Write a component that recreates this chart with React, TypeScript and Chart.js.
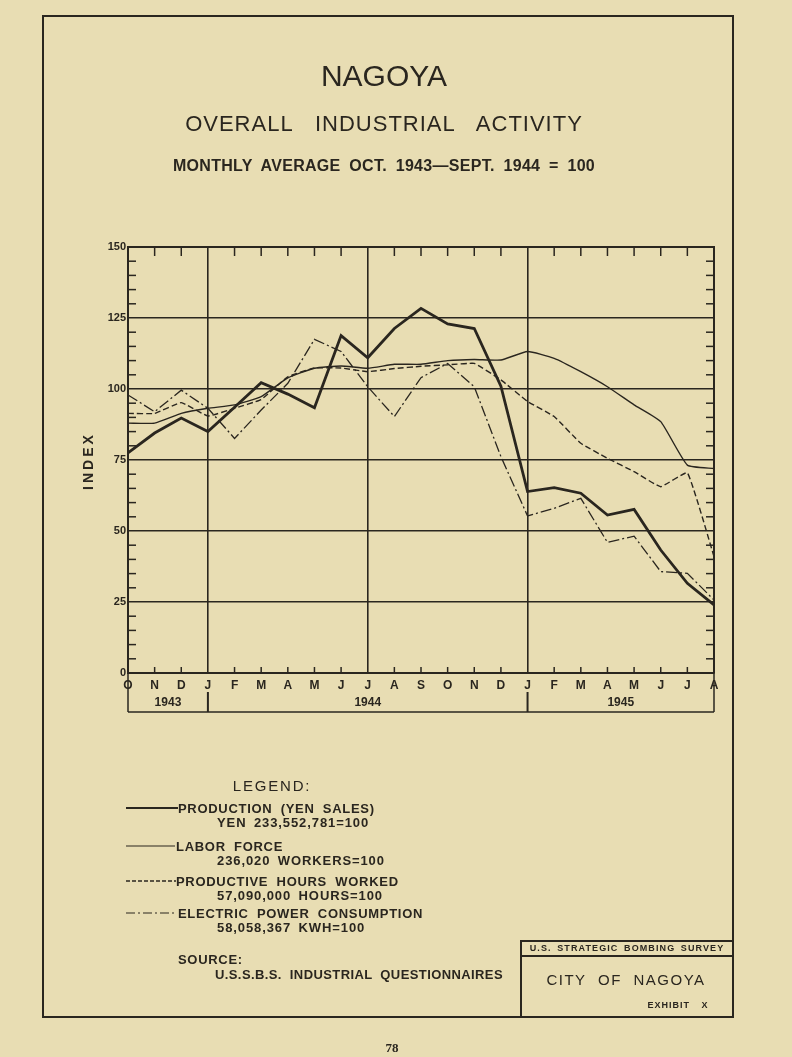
import React, { useEffect, useRef } from 'react';
import { Chart, registerables } from 'chart.js';

Chart.register(...registerables);

const INK = '#2a261f';
const PAPER = '#e8ddb3';
const FONT = '"Liberation Sans", Arial, sans-serif';

const MONTHS = ['O', 'N', 'D', 'J', 'F', 'M', 'A', 'M', 'J', 'J', 'A', 'S', 'O', 'N', 'D', 'J', 'F', 'M', 'A', 'M', 'J', 'J', 'A'];
const YEARS = ['1943', '1944', '1945'];
const YEAR_START = [0, 3, 15];
const YEAR_END = [3, 15, 22];
const MAJOR_MONTHS = [3, 9, 15];

const PRODUCTION = [77.5, 84.5, 89.8, 85, 93.6, 102.2, 98.2, 93.4, 118.8, 111, 121.3, 128.4, 122.9, 121.3, 101, 63.9, 65.3, 63.3, 55.6, 57.6, 43.3, 31.6, 24];
const LABOR = [88, 88, 91.4, 93.2, 94.4, 97.3, 103.9, 107.3, 108.1, 107.3, 108.7, 108.7, 110, 110.4, 110.2, 113.2, 110.8, 106.1, 100.8, 94.4, 88.5, 73.2, 72];
const HOURS = [91.4, 91.4, 95.2, 90.5, 93.2, 96.3, 104.3, 107.4, 107.4, 106.1, 107.2, 108, 108.5, 109, 103.2, 95.6, 90.3, 80.9, 75.6, 70.9, 65.6, 70.5, 41];
const POWER = [97.9, 92, 99.6, 93.2, 82.6, 92.6, 102, 117.5, 113.2, 100.8, 90.3, 104, 109, 100.8, 76.2, 55.3, 58, 61.5, 46, 48.2, 35.7, 35.1, 25.7];

const Y_MIN = 0;
const Y_MAX = 150;
const Y_MINOR_STEP = 5;
const Y_MAJOR_STEP = 25;

const decor = {
  id: 'decor',
  afterDraw(chart: any) {
    const { ctx, chartArea: a, scales } = chart;
    const x = scales.x;
    const y = scales.y;
    const line = (x1: number, y1: number, x2: number, y2: number) => {
      ctx.beginPath();
      ctx.moveTo(x1, y1);
      ctx.lineTo(x2, y2);
      ctx.stroke();
    };
    ctx.save();
    ctx.strokeStyle = INK;
    ctx.fillStyle = INK;
    ctx.setLineDash([]);
    ctx.lineWidth = 2;
    ctx.beginPath();
    ctx.moveTo(a.left, a.top);
    ctx.lineTo(a.right, a.top);
    ctx.lineTo(a.right, a.bottom);
    ctx.stroke();
    ctx.lineWidth = 1.5;
    for (let v = Y_MIN + Y_MINOR_STEP; v < Y_MAX; v += Y_MINOR_STEP) {
      if (v % Y_MAJOR_STEP === 0) continue;
      const py = y.getPixelForValue(v);
      line(a.left, py, a.left + 8, py);
      line(a.right - 8, py, a.right, py);
    }
    for (let i = 1; i < MONTHS.length - 1; i++) {
      if (MAJOR_MONTHS.includes(i)) continue;
      const px = x.getPixelForValue(i);
      line(px, a.top, px, a.top + 9);
      line(px, a.bottom - 6, px, a.bottom);
    }
    const yb = a.bottom + 39;
    ctx.lineWidth = 1.5;
    line(a.left, a.bottom, a.left, yb);
    line(a.right, a.bottom, a.right, yb);
    line(a.left, yb, a.right, yb);
    ctx.lineWidth = 2;
    for (let k = 1; k < YEAR_START.length; k++) {
      const px = x.getPixelForValue(YEAR_START[k]);
      line(px, a.bottom + 19, px, yb);
    }
    ctx.font = `bold 12px ${FONT}`;
    ctx.textAlign = 'center';
    ctx.textBaseline = 'middle';
    for (let k = 0; k < YEARS.length; k++) {
      const cx = (x.getPixelForValue(YEAR_START[k]) + x.getPixelForValue(YEAR_END[k])) / 2;
      ctx.fillText(YEARS[k], cx, a.bottom + 30);
    }
    ctx.restore();
  },
};

type TP = {
  x: number;
  y: number;
  s: number;
  w?: number;
  a?: 'left' | 'center';
  ls?: number;
  ws?: number;
  f?: string;
  rot?: boolean;
  children: React.ReactNode;
};

const T = ({ x, y, s, w = 700, a = 'left', ls = 0, ws = 0, f = FONT, rot = false, children }: TP) => (
  <div
    style={{
      position: 'absolute',
      left: x,
      top: y,
      fontSize: s,
      fontWeight: w,
      fontFamily: f,
      lineHeight: 1,
      whiteSpace: 'nowrap',
      letterSpacing: ls,
      wordSpacing: ws,
      color: INK,
      transform: rot
        ? 'translate(-50%,-50%) rotate(-90deg)'
        : a === 'center'
        ? 'translate(-50%,-50%)'
        : 'translateY(-50%)',
    }}
  >
    {children}
  </div>
);

const Swatch = ({ x1, x2, y, w, dash }: { x1: number; x2: number; y: number; w: number; dash?: string }) => (
  <svg style={{ position: 'absolute', left: 0, top: 0, overflow: 'visible' }} width={1} height={1}>
    <line x1={x1} y1={y} x2={x2} y2={y} stroke={INK} strokeWidth={w} strokeDasharray={dash} />
  </svg>
);

export default function App() {
  const ref = useRef<HTMLCanvasElement>(null);
  useEffect(() => {
    if (!ref.current) return;
    const chart = new Chart(ref.current, {
      type: 'line',
      data: {
        labels: MONTHS,
        datasets: [
          { label: 'PRODUCTION (YEN SALES)', data: PRODUCTION, borderColor: INK, borderWidth: 2.8, pointRadius: 0, tension: 0 },
          { label: 'LABOR FORCE', data: LABOR, borderColor: INK, borderWidth: 1.4, pointRadius: 0, tension: 0.15 },
          { label: 'PRODUCTIVE HOURS WORKED', data: HOURS, borderColor: INK, borderWidth: 1.4, borderDash: [6, 3], pointRadius: 0, tension: 0.1 },
          { label: 'ELECTRIC POWER CONSUMPTION', data: POWER, borderColor: INK, borderWidth: 1.3, borderDash: [11, 3, 2, 3], pointRadius: 0, tension: 0 },
        ],
      },
      options: {
        responsive: false,
        animation: false,
        events: [],
        layout: { padding: { left: 0, top: 247, right: 78, bottom: 344 } },
        plugins: { legend: { display: false }, tooltip: { enabled: false } },
        scales: {
          x: {
            type: 'category',
            offset: false,
            afterFit: (s: any) => {
              s.height = 40;
            },
            grid: {
              offset: false,
              drawTicks: false,
              lineWidth: 1.6,
              color: (c: any) => (MAJOR_MONTHS.includes(c.index) ? INK : 'rgba(0,0,0,0)'),
            },
            border: { display: true, color: INK, width: 2 },
            ticks: {
              autoSkip: false,
              maxRotation: 0,
              padding: 5,
              color: INK,
              font: { family: FONT, size: 12, weight: 'bold' },
            },
          },
          y: {
            min: Y_MIN,
            max: Y_MAX,
            afterFit: (s: any) => {
              s.width = 128;
            },
            grid: {
              drawTicks: false,
              lineWidth: 1.6,
              color: (c: any) =>
                c.tick && c.tick.value % Y_MAJOR_STEP === 0 && c.tick.value > Y_MIN && c.tick.value < Y_MAX ? INK : 'rgba(0,0,0,0)',
            },
            border: { display: true, color: INK, width: 2 },
            ticks: {
              stepSize: Y_MINOR_STEP,
              autoSkip: false,
              padding: 2,
              color: INK,
              font: { family: FONT, size: 11, weight: 'bold' },
              callback: (v: any) => (Number(v) % Y_MAJOR_STEP === 0 ? String(v) : ''),
            },
          },
        },
      } as any,
      plugins: [decor],
    });
    return () => chart.destroy();
  }, []);

  return (
    <div style={{ position: 'absolute', left: 0, top: 0, width: 792, height: 1057, background: PAPER, overflow: 'hidden' }}>
      <div style={{ position: 'absolute', left: 42, top: 15, width: 692, height: 1003, border: `2px solid ${INK}`, boxSizing: 'border-box' }} />
      <div style={{ position: 'absolute', left: 520, top: 940, width: 214, height: 78, border: `2px solid ${INK}`, boxSizing: 'border-box' }} />
      <div style={{ position: 'absolute', left: 520, top: 955, width: 214, height: 2, background: INK }} />
      <canvas ref={ref} width={792} height={1057} style={{ position: 'absolute', left: 0, top: 0 }} />

      <T x={384} y={76} s={30} w={400} a="center">NAGOYA</T>
      <T x={384} y={124} s={22} w={400} a="center" ls={1} ws={15}>OVERALL INDUSTRIAL ACTIVITY</T>
      <T x={384} y={166} s={16} w={700} a="center" ls={0.3} ws={4}>MONTHLY AVERAGE OCT. 1943—SEPT. 1944 = 100</T>
      <T x={88} y={461} s={14} w={700} rot ls={3}>INDEX</T>

      <T x={272} y={785} s={15} w={400} a="center" ls={1.8}>LEGEND:</T>
      <Swatch x1={126} x2={178} y={808} w={2} />
      <T x={178} y={808} s={13} ls={0.7} ws={4}>PRODUCTION (YEN SALES)</T>
      <T x={217} y={822} s={13} ls={0.9} ws={3}>YEN 233,552,781=100</T>
      <Swatch x1={126} x2={175} y={846} w={1.2} />
      <T x={176} y={846} s={13} ls={0.7} ws={4}>LABOR FORCE</T>
      <T x={217} y={860} s={13} ls={0.9} ws={3}>236,020 WORKERS=100</T>
      <Swatch x1={126} x2={176} y={881} w={1.3} dash="4 2" />
      <T x={176} y={881} s={13} ls={0.7} ws={4}>PRODUCTIVE HOURS WORKED</T>
      <T x={217} y={895} s={13} ls={0.9} ws={3}>57,090,000 HOURS=100</T>
      <Swatch x1={126} x2={176} y={913} w={1.2} dash="9 3 2 3" />
      <T x={178} y={913} s={13} ls={0.7} ws={4}>ELECTRIC POWER CONSUMPTION</T>
      <T x={217} y={927} s={13} ls={0.9} ws={3}>58,058,367 KWH=100</T>
      <T x={178} y={959} s={13} ls={0.7}>SOURCE:</T>
      <T x={215} y={974} s={13} ls={0.4} ws={4}>U.S.S.B.S. INDUSTRIAL QUESTIONNAIRES</T>

      <T x={627} y={948} s={9} a="center" ls={1.1} ws={2}>U.S. STRATEGIC BOMBING SURVEY</T>
      <T x={626} y={979} s={15} w={400} a="center" ls={1.5} ws={6}>CITY OF NAGOYA</T>
      <T x={678} y={1005} s={9} a="center" ls={1} ws={8}>EXHIBIT X</T>
      <T x={392} y={1047} s={13} a="center" f='"Liberation Serif", serif'>78</T>
    </div>
  );
}
